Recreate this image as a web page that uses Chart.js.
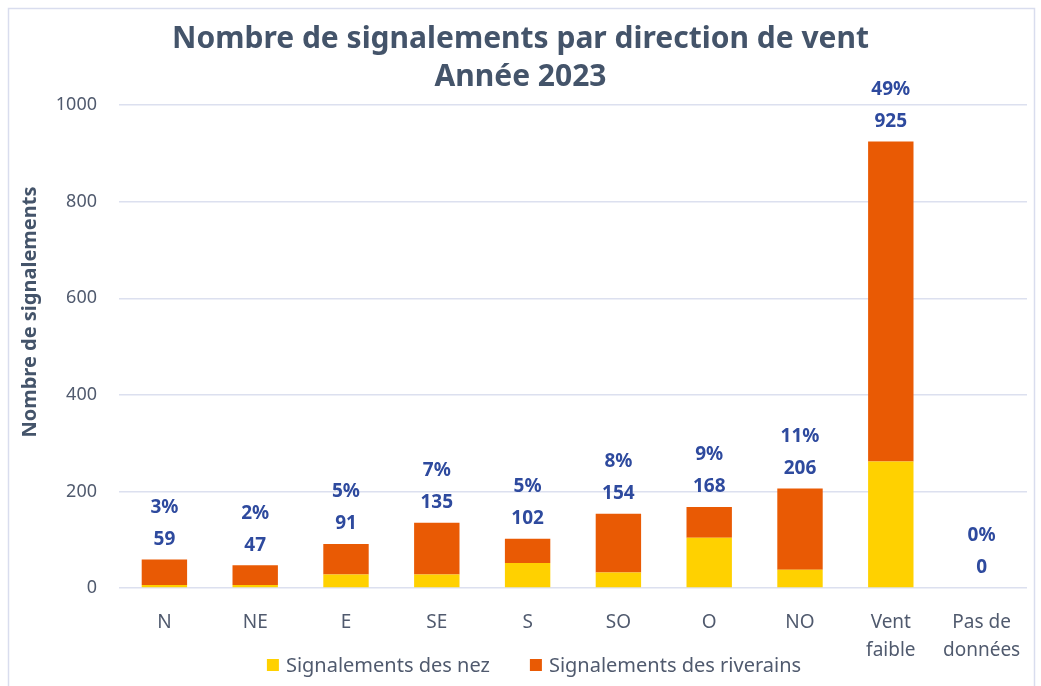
<!DOCTYPE html>
<html>
<head>
<meta charset="utf-8">
<script src="https://cdn.jsdelivr.net/npm/chart.js@4/dist/chart.umd.min.js"></script>
<style>
  html, body { margin: 0; padding: 0; background: #fff; }
  #wrap { position: relative; width: 1041px; height: 686px; }
</style>
</head>
<body>
<div id="wrap"><canvas id="chart" width="1041" height="686"></canvas></div>
<script>
const categories = ['N', 'NE', 'E', 'SE', 'S', 'SO', 'O', 'NO', ['Vent', 'faible'], ['Pas de', 'données']];
const nez = [6, 6, 28, 28, 52, 32, 104, 38, 262, 0];
const riverains = [53, 41, 63, 107, 50, 122, 64, 168, 663, 0];
const yTicks = [0, 200, 400, 600, 800, 1000];

const FONT = "'Noto Sans', 'Open Sans', sans-serif";
const slate = '#44546A';
const tickColor = '#505A6E';
const grid = '#DCE0EF';

const totals = nez.map((v, i) => v + riverains[i]);
const grandTotal = totals.reduce((a, b) => a + b, 0);

// total + share drawn above each stack
const stackLabels = {
  id: 'stackLabels',
  afterDatasetsDraw(chart) {
    const {ctx} = chart;
    const meta = chart.getDatasetMeta(1);
    const y = chart.scales.y;
    ctx.save();
    ctx.font = `bold 19px ${FONT}`;
    ctx.fillStyle = '#2E4A9E';
    ctx.textAlign = 'center';
    ctx.textBaseline = 'middle';
    totals.forEach((t, i) => {
      const x = meta.data[i].x;
      const top = y.getPixelForValue(t);
      const pct = Math.round(t / grandTotal * 100) + '%';
      ctx.fillText(String(t), x, top - 20);
      ctx.fillText(pct, x, top - 52);
    });
    ctx.restore();
  }
};

// outer frame, y title and legend (legend sits beside the two-line x labels)
const decor = {
  id: 'decor',
  beforeDraw(chart) {
    const {ctx} = chart;
    ctx.save();
    ctx.strokeStyle = '#D9DDEE';
    ctx.lineWidth = 1.5;
    ctx.strokeRect(8.5, 8.5, 1026, 690);
    ctx.restore();
  },
  afterDraw(chart) {
    const {ctx} = chart;
    ctx.save();
    ctx.translate(30, 312);
    ctx.rotate(-Math.PI / 2);
    ctx.font = `bold 20px ${FONT}`;
    ctx.fillStyle = slate;
    ctx.textAlign = 'center';
    ctx.textBaseline = 'middle';
    ctx.fillText('Nombre de signalements', 0, 0);
    ctx.restore();

    ctx.save();
    ctx.font = `20px ${FONT}`;
    ctx.textBaseline = 'middle';
    const items = chart.data.datasets.map(d => ({label: d.label, color: d.backgroundColor}));
    const box = 12, gap = 7, between = 40;
    const widths = items.map(it => box + gap + ctx.measureText(it.label).width);
    const total = widths.reduce((a, b) => a + b, 0) + between * (items.length - 1);
    let x = 534 - total / 2;
    const cy = 665;
    items.forEach((it, i) => {
      ctx.fillStyle = it.color;
      ctx.fillRect(x, cy - box / 2, box, box);
      ctx.fillStyle = tickColor;
      ctx.fillText(it.label, x + box + gap, cy + 1);
      x += widths[i] + between;
    });
    ctx.restore();
  }
};

new Chart(document.getElementById('chart'), {
  type: 'bar',
  data: {
    labels: categories,
    datasets: [
      {label: 'Signalements des nez', data: nez, backgroundColor: '#FFD100', stack: 's'},
      {label: 'Signalements des riverains', data: riverains, backgroundColor: '#E95A04', stack: 's'}
    ]
  },
  options: {
    responsive: false,
    animation: false,
    layout: {padding: {top: 12, left: 14, right: 14, bottom: 4}},
    datasets: {bar: {categoryPercentage: 1, barPercentage: 0.5}},
    plugins: {
      title: {
        display: true,
        text: ['Nombre de signalements par direction de vent', 'Année 2023'],
        color: slate,
        font: {family: FONT, size: 30, weight: 'bold', lineHeight: 1.27},
        padding: {top: 8, bottom: 9}
      },
      legend: {display: false},
      tooltip: {enabled: false}
    },
    scales: {
      x: {
        stacked: true,
        grid: {display: false},
        border: {display: false},
        ticks: {color: tickColor, font: {family: FONT, size: 19, lineHeight: 1.5}, padding: 12, maxRotation: 0, autoSkip: false},
        afterFit(scale) { scale.height = 94; }
      },
      y: {
        stacked: true,
        min: 0,
        max: 1000,
        afterBuildTicks(scale) { scale.ticks = yTicks.map(v => ({value: v})); },
        grid: {color: grid, lineWidth: 1.5, drawTicks: false},
        border: {display: false},
        ticks: {color: tickColor, font: {family: FONT, size: 18}, padding: 22, callback: v => String(v)},
        afterFit(scale) { scale.width = 105; }
      }
    }
  },
  plugins: [decor, stackLabels]
});
</script>
</body>
</html>
